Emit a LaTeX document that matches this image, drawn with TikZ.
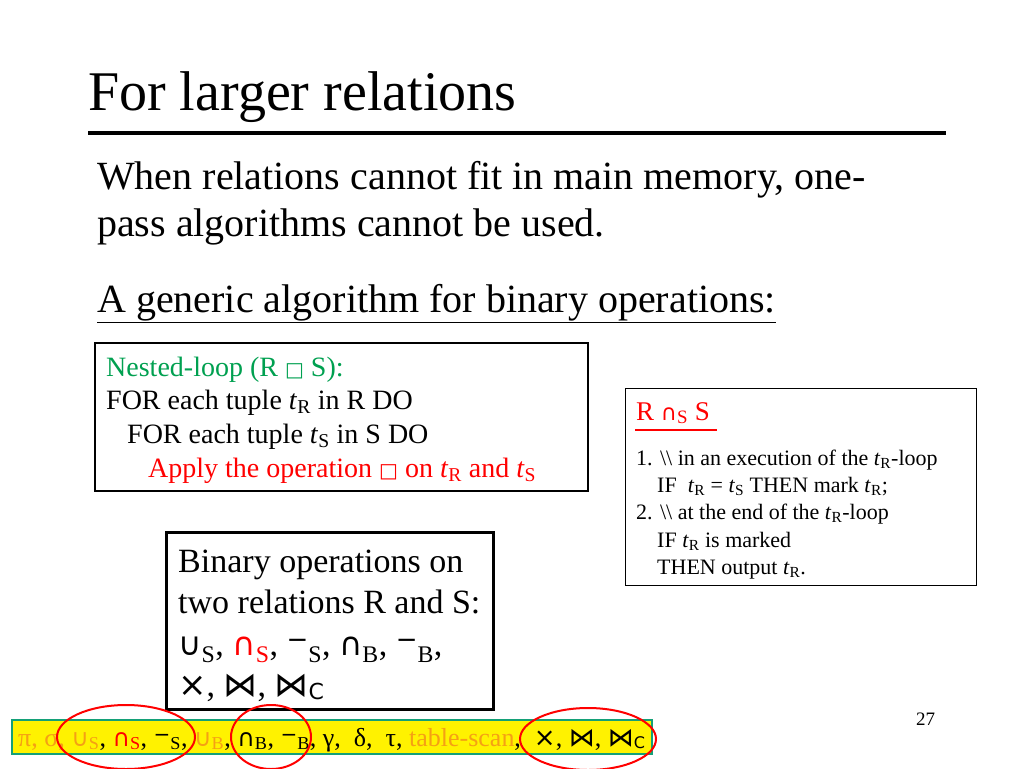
\documentclass[tikz,border=0pt]{standalone}
\usepackage{fontspec}
\setmainfont{Liberation Serif}
\newfontfamily\symfont{DejaVu Sans}
\usetikzlibrary{positioning}
\definecolor{nestgreen}{RGB}{0,160,80}
\definecolor{barorange}{RGB}{245,160,20}
\definecolor{bargreen}{RGB}{20,160,120}
\newcommand{\fs}[1]{\fontsize{#1}{#1}\selectfont}
\newcommand{\mns}[1]{{\symfont\fs{#1}\raisebox{0.25em}{−}}}
\begin{document}
\begin{tikzpicture}[x=1pt,y=-1pt,
    line/.style={anchor=base west, inner sep=0pt},
    frame/.style={draw, line width=1.5pt}
  ]
  \useasboundingbox (0,0) rectangle (1024,768);

  % Titel
  \node[line, font=\fs{56}] (title) at (88,110) {For larger relations};
  \draw[line width=4pt] (88,133) coordinate (rl) -- (946,133) coordinate (rr);

  % Tekst
  \node[line, font=\fs{40}] (t1) at (97,189) {When relations cannot fit in main memory, one-};
  \node[line, font=\fs{40}] (t2) at (97,236) {pass algorithms cannot be used.};
  \node[line, font=\fs{40}] (t3) at (97,312) {\underline{A generic algorithm for binary operations:}};

  % Nested-loop boks
  \draw[frame] (95,343) rectangle (588,491);
  \node[line, font=\fs{28}, text=nestgreen] (n1) at (106,376) {Nested-loop (R {\symfont\fs{20}□} S):};
  \node[line, font=\fs{28}] (n2) at (106,409) {FOR each tuple \textit{t}\textsubscript{R} in R DO};
  \node[line, font=\fs{28}] (n3) at (127,443) {FOR each tuple \textit{t}\textsubscript{S} in S DO};
  \node[line, font=\fs{28}, text=red] (n4) at (148,477) {Apply the operation {\symfont\fs{20}□} on \textit{t}\textsubscript{R} and \textit{t}\textsubscript{S}};

  % R snitt S boks
  \draw[thin] (625,388) rectangle (976,585);
  \node[line, font=\fs{27}, text=red] (rs) at (636,420) {R {\symfont\fs{22}∩}\textsubscript{S} S};
  \draw[red, line width=1.2pt] (635,430) -- (717,430);
  \node[line, font=\fs{22}] (r1) at (636,465) {1. \textbackslash\textbackslash\ in an execution of the \textit{t}\textsubscript{R}-loop};
  \node[line, font=\fs{22}] (r2) at (657,492) {IF\ \ \textit{t}\textsubscript{R} = \textit{t}\textsubscript{S} THEN mark \textit{t}\textsubscript{R};};
  \node[line, font=\fs{22}] (r3) at (636,519) {2. \textbackslash\textbackslash\ at the end of the \textit{t}\textsubscript{R}-loop};
  \node[line, font=\fs{22}] (r4) at (657,547) {IF \textit{t}\textsubscript{R} is marked};
  \node[line, font=\fs{22}] (r5) at (657,574) {THEN output \textit{t}\textsubscript{R}.};

  % Binære operasjoner
  \draw[line width=3pt] (166,532) rectangle (493,709);
  \node[line, font=\fs{34}] (b1) at (178,572) {Binary operations on};
  \node[line, font=\fs{34}] (b2) at (178,613) {two relations R and S:};
  \node[line, font=\fs{34}] (b3) at (178,655) {{\symfont\fs{32}∪}\textsubscript{S}, \textcolor{red}{{\symfont\fs{32}∩}\textsubscript{S}}, \mns{26}\textsubscript{S}, {\symfont\fs{32}∩}\textsubscript{B}, \mns{26}\textsubscript{B},};
  \node[line, font=\fs{34}] (b4) at (178,696) {{\symfont\fs{34}×}, {\symfont\fs{34}⋈}, {\symfont\fs{34}⋈}{\symfont\fs{22}\raisebox{-3pt}{C}}};

  % Operatorlinje
  \draw[bargreen, fill=yellow, line width=2pt] (12,720) rectangle (652,754);
  \node[line, font=\fs{26}] (ops) at (18,746) {\textcolor{barorange}{π, σ, {\symfont\fs{24}∪}\textsubscript{S}}, \textcolor{red}{{\symfont\fs{24}∩}\textsubscript{S}}, \mns{20}\textsubscript{S}, \textcolor{barorange}{{\symfont\fs{24}∪}\textsubscript{B}}, {\symfont\fs{24}∩}\textsubscript{B}, \mns{20}\textsubscript{B}, γ,\ \ δ,\ \ τ, \textcolor{barorange}{table-scan},\ \ {\symfont\fs{26}×}, {\symfont\fs{26}⋈}, {\symfont\fs{26}⋈}{\symfont\fs{16}\raisebox{-2pt}{C}}};

  % Ringer
  \draw[red, line width=2pt] (126,737) ellipse (69 and 32);
  \draw[red, line width=2pt] (271,737) ellipse (40 and 32);
  \draw[red, line width=2pt] (588,739) ellipse (68 and 31);

  \node[line, font=\fs{19}] (pg) at (916,725) {27};
\end{tikzpicture}
\end{document}
